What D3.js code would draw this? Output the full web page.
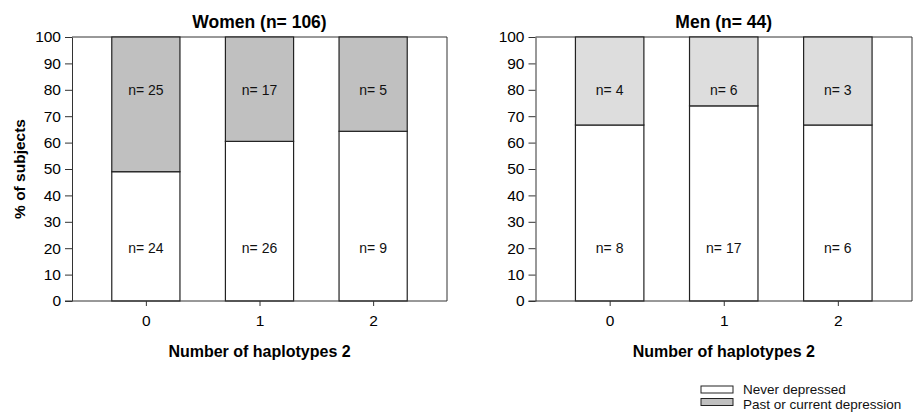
<!DOCTYPE html>
<html>
<head>
<meta charset="utf-8">
<script src="https://cdn.jsdelivr.net/npm/d3@7"></script>
<style>
  body { margin: 0; background: #fff; }
  svg { display: block; font-family: "Liberation Sans", Arial, sans-serif; }
</style>
</head>
<body>
<svg id="chart" width="913" height="413"></svg>
<script>
// Haplotype groups on the x axis
const categories = [0, 1, 2];
// Subject counts per group
const womenNever = [24, 26, 9];
const womenPast = [25, 17, 5];
const menNever = [8, 17, 6];
const menPast = [4, 6, 3];
const yTicks = [0, 10, 20, 30, 40, 50, 60, 70, 80, 90, 100];
const legendLabels = ["Never depressed", "Past or current depression"];

const svg = d3.select("#chart");
const plotTop = 37, plotBottom = 301;
const y = d3.scaleLinear().domain([0, 100]).range([plotBottom, plotTop]);

const panels = [
  { title: "Women (n= 106)", never: womenNever, past: womenPast, left: 72, right: 447, pastFill: "#c0c0c0" },
  { title: "Men (n= 44)", never: menNever, past: menPast, left: 535.5, right: 912, pastFill: "#dddddd" }
];

panels.forEach(p => {
  const x = d3.scaleLinear().domain([-0.65, 2.65]).range([p.left, p.right]);
  const bw = x(0.6) - x(0);
  const g = svg.append("g");

  // frame (top and right edges)
  g.append("path")
    .attr("d", `M${p.left},${plotTop}H${p.right}V${plotBottom}`)
    .attr("fill", "none").attr("stroke", "#333").attr("stroke-width", 1);

  const rows = categories.map((c, i) => {
    const total = p.never[i] + p.past[i];
    return { c, never: p.never[i], past: p.past[i], pct: 100 * p.never[i] / total };
  });

  // lower segment: never depressed
  g.selectAll(".never").data(rows).join("rect")
    .attr("x", d => x(d.c) - bw / 2).attr("width", bw)
    .attr("y", d => y(d.pct)).attr("height", d => y(0) - y(d.pct))
    .attr("fill", "#fff").attr("stroke", "#222").attr("stroke-width", 1.2);
  // upper segment: past or current depression
  g.selectAll(".past").data(rows).join("rect")
    .attr("x", d => x(d.c) - bw / 2).attr("width", bw)
    .attr("y", y(100)).attr("height", d => y(d.pct) - y(100))
    .attr("fill", p.pastFill).attr("stroke", "#222").attr("stroke-width", 1.2);

  // count labels
  g.selectAll(".lp").data(rows).join("text")
    .attr("x", d => x(d.c)).attr("y", y(80)).attr("dy", "0.35em")
    .attr("text-anchor", "middle").attr("font-size", 14).attr("fill", "#111")
    .text(d => "n= " + d.past);
  g.selectAll(".ln").data(rows).join("text")
    .attr("x", d => x(d.c)).attr("y", y(20)).attr("dy", "0.35em")
    .attr("text-anchor", "middle").attr("font-size", 14).attr("fill", "#111")
    .text(d => "n= " + d.never);

  // y axis
  const ya = g.append("g").attr("transform", `translate(${p.left},0)`)
    .call(d3.axisLeft(y).tickValues(yTicks).tickSize(7).tickSizeOuter(0).tickPadding(4));
  ya.selectAll("text").attr("font-size", 15.5).attr("fill", "#000").attr("font-family", "Liberation Sans, Arial, sans-serif");
  ya.selectAll("line,path").attr("stroke", "#333");

  // x axis
  const xa = g.append("g").attr("transform", `translate(0,${plotBottom})`)
    .call(d3.axisBottom(x).tickValues(categories).tickSize(5).tickSizeOuter(0).tickPadding(9).tickFormat(d3.format("d")));
  xa.select(".domain").attr("d", `M${p.left - 7},0H${p.right}`);
  xa.selectAll("text").attr("font-size", 15.5).attr("fill", "#000").attr("font-family", "Liberation Sans, Arial, sans-serif");
  xa.selectAll("line,path").attr("stroke", "#333");

  const cx = (p.left + p.right) / 2;
  g.append("text").attr("x", cx).attr("y", 27.5).attr("text-anchor", "middle")
    .attr("font-size", 17.5).attr("font-weight", "bold").text(p.title);
  g.append("text").attr("x", cx).attr("y", 356.5).attr("text-anchor", "middle")
    .attr("font-size", 16).attr("font-weight", "bold").text("Number of haplotypes 2");
});

// y axis title
svg.append("text")
  .attr("transform", `translate(24.5,${(plotTop + plotBottom) / 2}) rotate(-90)`)
  .attr("text-anchor", "middle").attr("font-size", 15.5).attr("font-weight", "bold")
  .text("% of subjects");

// legend
const legendFills = ["#ffffff", "#c0c0c0"];
const lg = svg.append("g").attr("transform", "translate(701,386)");
lg.selectAll("rect").data(legendLabels).join("rect")
  .attr("x", 0).attr("y", (d, i) => i * 12.5).attr("width", 32).attr("height", 7)
  .attr("fill", (d, i) => legendFills[i]).attr("stroke", "#222").attr("stroke-width", 1);
lg.selectAll("text").data(legendLabels).join("text")
  .attr("x", 42).attr("y", (d, i) => i * 15.5 + 7.5)
  .attr("font-size", 13.5).attr("fill", "#111").text(d => d);
</script>
</body>
</html>
